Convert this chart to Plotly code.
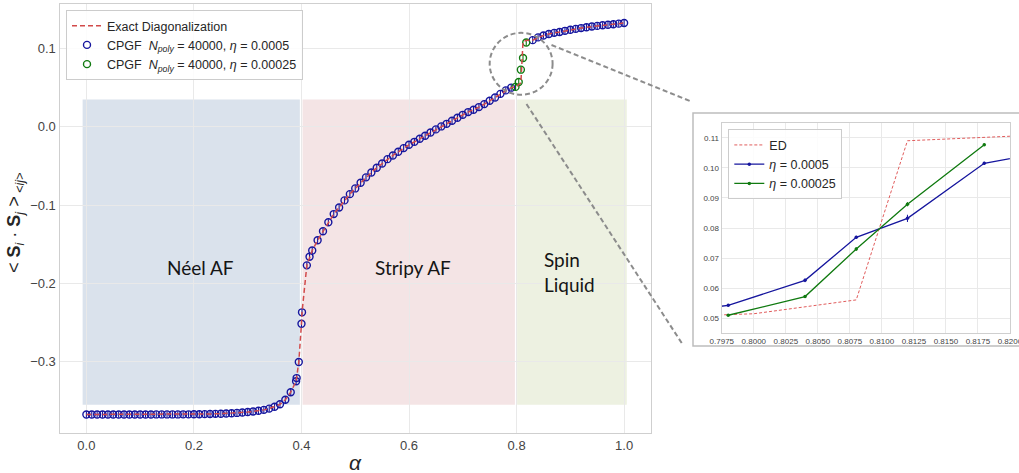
import plotly.graph_objects as go

W, H = 1019, 473

# ---------------- data ----------------
alpha = [0.00, 0.01, 0.02, 0.03, 0.04, 0.05, 0.06, 0.07, 0.08, 0.09,
         0.10, 0.11, 0.12, 0.13, 0.14, 0.15, 0.16, 0.17, 0.18, 0.19,
         0.20, 0.21, 0.22, 0.23, 0.24, 0.25, 0.26, 0.27, 0.28, 0.29,
         0.30, 0.31, 0.32, 0.33, 0.34, 0.35, 0.36, 0.37, 0.38, 0.39,
         0.391, 0.395, 0.40, 0.401, 0.41, 0.415,
         0.42, 0.43, 0.44, 0.45, 0.46, 0.47, 0.48, 0.49,
         0.50, 0.51, 0.52, 0.53, 0.54, 0.55, 0.56, 0.57, 0.58, 0.59,
         0.60, 0.61, 0.62, 0.63, 0.64, 0.65, 0.66, 0.67, 0.68, 0.69,
         0.70, 0.71, 0.72, 0.73, 0.74, 0.75, 0.76, 0.77, 0.78, 0.79,
         0.83, 0.84, 0.85, 0.86, 0.87, 0.88, 0.89,
         0.90, 0.91, 0.92, 0.93, 0.94, 0.95, 0.96, 0.97, 0.98, 0.99, 1.00]

cpgf_0005 = [-0.3675, -0.3675, -0.3675, -0.3675, -0.3675, -0.3675, -0.3675, -0.3675, -0.3675, -0.3675,
             -0.3675, -0.3675, -0.3675, -0.3674, -0.3674, -0.3674, -0.3674, -0.3674, -0.3673, -0.3673,
             -0.3672, -0.3671, -0.3670, -0.3669, -0.3667, -0.3665, -0.3662, -0.3659, -0.3655, -0.3650,
             -0.3644, -0.3637, -0.3628, -0.3616, -0.3600, -0.3577, -0.3545, -0.3487, -0.3390, -0.3250,
             -0.3210, -0.3005, -0.2516, -0.2370, -0.1770, -0.1660,
             -0.1580, -0.1450, -0.1335, -0.1220, -0.1115, -0.1030, -0.0940, -0.0860,
             -0.0787, -0.0715, -0.0646, -0.0583, -0.0524, -0.0468, -0.0413, -0.0366, -0.0319, -0.0272,
             -0.0230, -0.0192, -0.0153, -0.0115, -0.0072, -0.0033, 0.0005, 0.0038, 0.0077, 0.0115,
             0.0153, 0.0188, 0.0217, 0.0252, 0.0290, 0.0332, 0.0375, 0.0421, 0.0465, 0.0500,
             0.1107, 0.1142, 0.1167, 0.1186, 0.1200, 0.1212, 0.1226,
             0.1240, 0.1251, 0.1261, 0.1272, 0.1281, 0.1289, 0.1297, 0.1304, 0.1311, 0.1318, 0.1326]

# exact diagonalization differs from CPGF only across the alpha ~ 0.81 jump
ed_alpha_jump = [0.80, 0.808, 0.812, 0.82]
ed_jump = [0.0515, 0.0561, 0.1090, 0.1105]

# eta = 0.00025 run (only around the second transition)
alpha_00025 = [0.798, 0.804, 0.808, 0.812, 0.818]
cpgf_00025 = [0.0510, 0.0572, 0.0730, 0.0879, 0.1077]
cpgf_00025_err = [0.0003, 0.0004, 0.0006, 0.0007, 0.0004]

# eta = 0.0005 run, zoomed region (inset)
alpha_inset = [0.79, 0.798, 0.804, 0.808, 0.812, 0.818, 0.83]
inset_0005 = [0.0500, 0.0543, 0.0626, 0.0769, 0.0832, 0.1015, 0.1107]
inset_0005_err = [0.0004, 0.0004, 0.0006, 0.0005, 0.0012, 0.0005, 0.0004]

phases = ["Néel AF", "Stripy AF", "Spin<br>Liquid"]
phase_x0 = [-0.007, 0.402, 0.801]
phase_x1 = [0.397, 0.797, 1.005]

ed_alpha = [a for a in alpha if a < 0.795] + ed_alpha_jump + [a for a in alpha if a > 0.825]
ed_vals = ([v for a, v in zip(alpha, cpgf_0005) if a < 0.795] + ed_jump
           + [v for a, v in zip(alpha, cpgf_0005) if a > 0.825])

# ---------------- style ----------------
BLUE = "#16169e"
GREEN = "#107a10"
RED = "#d24a4a"
GRID = "#e9e9e9"
SPINE = "#cfcfcf"
FONT = "Liberation Sans, Arial, sans-serif"


def px(x):
    return x / W


def py(y):
    return 1 - y / H


fig = go.Figure()

# main panel
fig.add_trace(go.Scatter(
    x=alpha, y=cpgf_0005, mode="markers", xaxis="x", yaxis="y",
    marker=dict(symbol="circle-open", size=7, color=BLUE, line=dict(width=1.4, color=BLUE)),
    error_y=dict(type="constant", value=0.004, thickness=1.1, width=0, color=BLUE),
    name="CPGF  <i>N</i><sub><i>poly</i></sub> = 40000, <i>η</i> = 0.0005",
    legend="legend", legendrank=2))
fig.add_trace(go.Scatter(
    x=alpha_00025, y=cpgf_00025, mode="markers", xaxis="x", yaxis="y",
    marker=dict(symbol="circle-open", size=7, color=GREEN, line=dict(width=1.4, color=GREEN)),
    error_y=dict(type="constant", value=0.004, thickness=1.1, width=0, color=GREEN),
    name="CPGF  <i>N</i><sub><i>poly</i></sub> = 40000, <i>η</i> = 0.00025",
    legend="legend", legendrank=3))
fig.add_trace(go.Scatter(
    x=ed_alpha, y=ed_vals, mode="lines", xaxis="x", yaxis="y",
    line=dict(color=RED, width=1.5, dash="5px,3px"),
    name="Exact Diagonalization", legend="legend", legendrank=1))

# inset panel
fig.add_trace(go.Scatter(
    x=ed_alpha, y=ed_vals, mode="lines", xaxis="x2", yaxis="y2",
    line=dict(color="#e05c5c", width=1, dash="3px,2px"),
    name="ED", legend="legend2", legendrank=1))
fig.add_trace(go.Scatter(
    x=alpha_inset, y=inset_0005, mode="lines+markers", xaxis="x2", yaxis="y2",
    line=dict(color=BLUE, width=1.3), marker=dict(size=3.5, color=BLUE),
    error_y=dict(type="data", array=inset_0005_err, thickness=1, width=0, color=BLUE),
    name="<i>η</i> = 0.0005", legend="legend2", legendrank=2))
fig.add_trace(go.Scatter(
    x=alpha_00025, y=cpgf_00025, mode="lines+markers", xaxis="x2", yaxis="y2",
    line=dict(color=GREEN, width=1.3), marker=dict(size=3.5, color=GREEN),
    error_y=dict(type="data", array=cpgf_00025_err, thickness=1, width=0, color=GREEN),
    name="<i>η</i> = 0.00025", legend="legend2", legendrank=3))

shapes = []
phase_colors = ["rgba(205,216,230,0.75)", "rgba(240,216,218,0.7)", "rgba(230,235,212,0.7)"]
for x0, x1, c in zip(phase_x0, phase_x1, phase_colors):
    shapes.append(dict(type="rect", xref="x", yref="y", x0=x0, x1=x1, y0=-0.355, y1=0.035,
                       fillcolor=c, line=dict(width=0), layer="below"))
# inset frame
shapes.append(dict(type="rect", xref="paper", yref="paper", x0=px(693), x1=px(1030),
                   y0=py(346), y1=py(113), fillcolor="white",
                   line=dict(color="#bdbdbd", width=1.5), layer="below"))
# zoom circle (data coords) and connectors
shapes.append(dict(type="circle", xref="x", yref="y", x0=0.750, x1=0.867, y0=0.041, y1=0.120,
                   line=dict(color="#8c8c8c", width=2, dash="5px,3px"), layer="above"))
shapes.append(dict(type="line", xref="paper", yref="paper", x0=px(551.5), y0=py(45),
                   x1=px(690), y1=py(101), line=dict(color="#8c8c8c", width=2, dash="5px,3px")))
shapes.append(dict(type="line", xref="paper", yref="paper", x0=px(526.5), y0=py(104),
                   x1=px(683), y1=py(345), line=dict(color="#8c8c8c", width=2, dash="5px,3px")))

annotations = [
    dict(text=phases[0], xref="x", yref="y", x=0.213, y=-0.180, showarrow=False,
         font=dict(family="Lato", size=19, color="#151515"), xanchor="center", yanchor="middle"),
    dict(text=phases[1], xref="x", yref="y", x=0.607, y=-0.180, showarrow=False,
         font=dict(family="Lato", size=19, color="#151515"), xanchor="center", yanchor="middle"),
    dict(text=phases[2], xref="x", yref="y", x=0.847, y=-0.186, showarrow=False, align="left",
         font=dict(family="Lato", size=19, color="#151515"), xanchor="left", yanchor="middle"),
    dict(text="<i>α</i>", xref="paper", yref="paper", x=px(355), y=py(462), showarrow=False,
         font=dict(family=FONT, size=21, color="#262626"), xanchor="center", yanchor="middle"),
    dict(text="&lt; <b>S</b><sub><i>i</i></sub> · <b>S</b><sub><i>j</i></sub> &gt;<sub> &lt;<i>ij</i>&gt;</sub>",
         xref="paper", yref="paper", x=px(15), y=py(223), showarrow=False, textangle=-90,
         font=dict(family=FONT, size=18, color="#262626"), xanchor="center", yanchor="middle"),
]

axis_common = dict(showgrid=True, gridcolor=GRID, gridwidth=1, zeroline=False, automargin=False,
                   showline=True, linecolor=SPINE, linewidth=1.2, mirror=True, ticks="")

fig.update_layout(
    width=W, height=H, margin=dict(l=0, r=0, t=0, b=0, autoexpand=False),
    paper_bgcolor="white", plot_bgcolor="rgba(0,0,0,0)",
    font=dict(family=FONT, color="#444444"),
    xaxis=dict(domain=[px(59.5), px(651)], range=[-0.05, 1.05], tickvals=[0, 0.2, 0.4, 0.6, 0.8, 1.0],
               tickformat=".1f", tickfont=dict(size=13, color="#444444"), anchor="y", **axis_common),
    yaxis=dict(domain=[py(433.2), py(3.9)], range=[-0.3914, 0.157], tickvals=[-0.3, -0.2, -0.1, 0.0, 0.1],
               tickformat=".1f", tickfont=dict(size=13, color="#444444"), anchor="x", **axis_common),
    xaxis2=dict(domain=[px(721.7), px(1010)], range=[0.79749, 0.82001], tick0=0.7975, dtick=0.0025,
                tickformat=".4f", tickfont=dict(size=8, color="#444444"), anchor="y2",
                ticklabeloverflow="allow", **axis_common),
    yaxis2=dict(domain=[py(333.3), py(122.7)], range=[0.045, 0.115], tick0=0.05, dtick=0.01,
                tickformat=".2f", tickfont=dict(size=8, color="#444444"), anchor="x2", **axis_common),
    legend=dict(x=px(66), y=py(10), xanchor="left", yanchor="top",
                bgcolor="rgba(255,255,255,0.85)", bordercolor="#cccccc", borderwidth=1,
                font=dict(family=FONT, size=12.5, color="#262626"), tracegroupgap=0),
    legend2=dict(x=px(728.3), y=py(129.3), xanchor="left", yanchor="top",
                 bgcolor="rgba(255,255,255,0.85)", bordercolor="#cccccc", borderwidth=1,
                 font=dict(family=FONT, size=12.5, color="#262626"), tracegroupgap=0),
    shapes=shapes, annotations=annotations, showlegend=True,
)

fig.write_html("out.html", config={"displayModeBar": False},
               post_script="document.body.style.margin='0';document.body.style.overflow='hidden';")
